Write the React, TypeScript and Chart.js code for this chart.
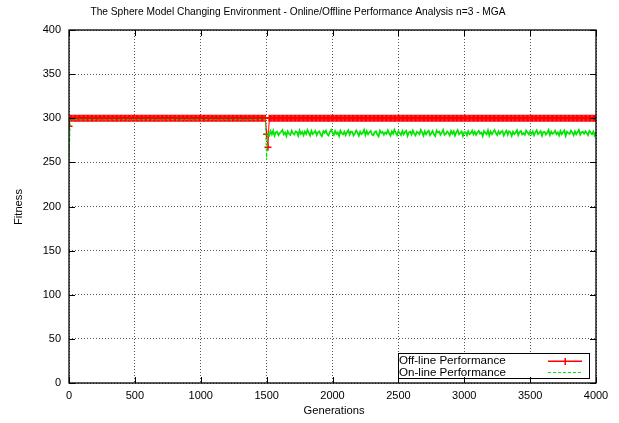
import React, { useEffect, useRef } from 'react';
import { Chart, registerables } from 'chart.js';

Chart.register(...registerables);

const TITLE = 'The Sphere Model Changing Environment - Online/Offline Performance Analysis n=3 - MGA';
const X_TITLE = 'Generations';
const Y_TITLE = 'Fitness';
const SERIES_NAMES = ['Off-line Performance', 'On-line Performance'];
const X_RANGE = [0, 4000];
const X_STEP = 500;
const Y_RANGE = [0, 400];
const Y_STEP = 50;
const GEN_STEP = 10;
const CHANGE_INDEX = 150; // generation 1500, environment change

// Off-line performance, one value every 10 generations (0 .. 4000)
const offline = [
291,300,300,300,300,300,300,300,300,300,300,300,300,300,300,300,300,300,300,300,
300,300,300,300,300,300,300,300,300,300,300,300,300,300,300,300,300,300,300,300,
300,300,300,300,300,300,300,300,300,300,300,300,300,300,300,300,300,300,300,300,
300,300,300,300,300,300,300,300,300,300,300,300,300,300,300,300,300,300,300,300,
300,300,300,300,300,300,300,300,300,300,300,300,300,300,300,300,300,300,300,300,
300,300,300,300,300,300,300,300,300,300,300,300,300,300,300,300,300,300,300,300,
300,300,300,300,300,300,300,300,300,300,300,300,300,300,300,300,300,300,300,300,
300,300,300,300,300,300,300,300,300,300,282,267,300,300,300,300,300,300,300,300,
300,300,300,300,300,300,300,300,300,300,300,300,300,300,300,300,300,300,300,300,
300,300,300,300,300,300,300,300,300,300,300,300,300,300,300,300,300,300,300,300,
300,300,300,300,300,300,300,300,300,300,300,300,300,300,300,300,300,300,300,300,
300,300,300,300,300,300,300,300,300,300,300,300,300,300,300,300,300,300,300,300,
300,300,300,300,300,300,300,300,300,300,300,300,300,300,300,300,300,300,300,300,
300,300,300,300,300,300,300,300,300,300,300,300,300,300,300,300,300,300,300,300,
300,300,300,300,300,300,300,300,300,300,300,300,300,300,300,300,300,300,300,300,
300,300,300,300,300,300,300,300,300,300,300,300,300,300,300,300,300,300,300,300,
300,300,300,300,300,300,300,300,300,300,300,300,300,300,300,300,300,300,300,300,
300,300,300,300,300,300,300,300,300,300,300,300,300,300,300,300,300,300,300,300,
300,300,300,300,300,300,300,300,300,300,300,300,300,300,300,300,300,300,300,300,
300,300,300,300,300,300,300,300,300,300,300,300,300,300,300,300,300,300,300,300,
300,
];

// On-line performance, one value every 10 generations (0 .. 4000)
const online = [
251,297.9,298.4,298.6,298.2,298.5,298.3,298.7,298.1,298.4,
298.6,298.3,298.2,298.5,298.8,298.4,298.1,298.6,298.3,298.5,
298.2,298.7,298.4,298.0,298.5,298.6,298.3,298.2,298.8,298.4,
298.5,298.1,298.6,298.3,298.7,298.2,298.4,298.5,298.0,298.6,
298.3,298.8,298.4,298.2,298.5,298.7,298.1,298.4,298.6,298.3,
298.5,298.2,298.7,298.4,298.0,298.6,298.3,298.5,298.8,298.2,
298.4,298.6,298.1,298.5,298.3,298.7,298.4,298.2,298.6,298.5,
298.3,298.0,298.6,298.4,298.8,298.2,298.5,298.3,298.7,298.4,
298.6,298.2,298.5,298.1,298.4,298.7,298.3,298.6,298.2,298.5,
298.4,298.8,298.3,298.5,298.0,298.6,298.4,298.2,298.7,298.3,
298.5,298.1,298.6,298.4,298.3,298.8,298.2,298.5,298.6,298.4,
298.2,298.7,298.3,298.5,298.1,298.4,298.6,298.3,298.8,298.5,
298.4,298.2,298.6,298.0,298.5,298.7,298.3,298.4,298.2,298.6,
298.5,298.3,298.8,298.4,298.1,298.6,298.2,298.5,298.7,298.3,
298.4,298.6,298.2,298.5,298.3,298.7,298.4,298.1,298.6,298.5,
253,
283.5,280.6,285.4,281.7,285.9,280.2,284.1,284.8,280.9,283.2,
284.7,286.6,281.8,283.9,279.8,285.3,282.4,281.0,285.8,283.0,
281.6,285.1,284.2,280.1,286.3,282.2,284.5,280.7,284.9,282.0,
286.8,283.3,280.3,285.6,282.0,283.8,285.7,280.9,284.0,285.1,
281.4,279.6,285.3,283.4,286.1,281.8,280.5,284.6,287.0,283.5,
281.1,285.5,282.3,284.0,279.9,285.9,283.0,281.8,284.8,280.8,
284.2,286.5,281.5,284.9,284.4,280.3,282.6,286.2,283.7,280.1,
284.9,282.1,283.4,286.8,281.0,285.4,281.9,284.1,285.7,281.3,
280.6,284.3,285.2,281.6,279.5,286.0,283.4,284.6,281.2,283.9,
282.2,286.4,283.0,280.4,285.1,282.3,287.0,283.6,280.8,285.3,
283.3,280.9,285.6,281.7,284.3,285.8,280.0,284.1,284.9,281.5,
286.1,282.5,280.5,284.7,283.6,281.9,286.7,284.1,280.2,285.2,
281.8,284.4,285.9,280.8,283.0,285.5,281.6,279.7,286.2,283.7,
284.8,281.3,284.0,286.9,281.2,282.2,285.0,283.5,280.6,285.7,
282.3,285.3,280.3,284.2,286.6,281.7,283.4,285.1,280.0,284.3,
284.1,280.7,285.4,282.0,283.2,286.0,281.5,284.7,281.0,284.0,
285.8,282.6,283.8,279.8,285.5,283.4,281.8,286.3,280.5,284.9,
281.9,284.6,286.8,283.3,280.9,285.2,282.3,284.5,285.7,280.4,
283.6,285.9,281.4,285.3,284.2,280.0,284.8,282.0,283.8,286.4,
280.8,284.3,285.6,281.7,283.2,281.1,286.1,284.0,281.6,285.0,
282.1,285.1,280.6,284.1,286.5,281.9,283.5,285.4,280.2,284.4,
284.6,281.5,283.6,286.7,281.0,284.9,282.4,283.3,285.8,281.8,
283.9,280.5,285.5,282.0,284.3,286.2,280.1,284.8,283.0,282.3,
286.0,283.7,280.7,285.2,281.7,284.4,286.9,281.4,284.1,284.7,
282.4,285.3,283.3,280.9,285.7,283.6,281.9,285.0,280.4,284.2,
];

const RED = '#ff0000';
const GREEN = '#00e600';
const FONT = '"Liberation Sans", Arial, Helvetica, sans-serif';
const TICK_SIZE = 11;
const TITLE_SIZE = 10.2;
const LABEL_SIZE = 11.2;
const LEGEND_SIZE = 11.6;

const decorPlugin = {
  id: 'decor',
  afterDraw(chart: any) {
    const { ctx, chartArea: a, scales } = chart;
    const xs = scales.x;
    const ys = scales.y;
    ctx.save();
    ctx.fillStyle = '#000';
    ctx.textBaseline = 'middle';
    ctx.textAlign = 'center';
    ctx.font = `${TITLE_SIZE}px ${FONT}`;
    ctx.fillText(TITLE, 298, 12);
    ctx.font = `${LABEL_SIZE}px ${FONT}`;
    ctx.fillText(X_TITLE, 334, 411);
    ctx.save();
    ctx.translate(19, 207);
    ctx.rotate(-Math.PI / 2);
    ctx.fillText(Y_TITLE, 0, 0);
    ctx.restore();

    // legend box
    const lx = 398.5, ly = 353.5, lw = 191, lh = 25;
    ctx.fillStyle = '#fff';
    ctx.fillRect(lx, ly, lw, lh);
    ctx.strokeStyle = '#000';
    ctx.lineWidth = 1;
    ctx.strokeRect(lx, ly, lw, lh);
    ctx.fillStyle = '#000';
    ctx.textAlign = 'left';
    ctx.font = `${LEGEND_SIZE}px ${FONT}`;
    ctx.fillText(SERIES_NAMES[0], 399, 361);
    ctx.fillText(SERIES_NAMES[1], 399, 372.5);
    // red sample
    ctx.fillStyle = RED;
    ctx.fillRect(548, 360.5, 34, 1.5);
    ctx.fillRect(564.5, 358, 1.5, 7);
    // green sample
    ctx.strokeStyle = GREEN;
    ctx.lineWidth = 1;
    ctx.setLineDash([3, 2]);
    ctx.beginPath();
    ctx.moveTo(548, 372.5);
    ctx.lineTo(582, 372.5);
    ctx.stroke();
    ctx.setLineDash([]);

    // frame
    ctx.strokeStyle = '#000';
    ctx.lineWidth = 1.3;
    ctx.strokeRect(a.left, a.top, a.right - a.left, a.bottom - a.top);

    // inward ticks (mirrored)
    ctx.lineWidth = 1;
    ctx.beginPath();
    const tl = 6;
    xs.ticks.forEach((t: any) => {
      const px = Math.round(xs.getPixelForValue(t.value)) + 0.5;
      ctx.moveTo(px, a.bottom);
      ctx.lineTo(px, a.bottom - tl);
      ctx.moveTo(px, a.top);
      ctx.lineTo(px, a.top + tl);
    });
    ys.ticks.forEach((t: any) => {
      const py = Math.round(ys.getPixelForValue(t.value)) + 0.5;
      ctx.moveTo(a.left, py);
      ctx.lineTo(a.left + tl, py);
      ctx.moveTo(a.right, py);
      ctx.lineTo(a.right - tl, py);
    });
    ctx.stroke();
    ctx.restore();
  },
};

export default function App() {
  const canvasRef = useRef<HTMLCanvasElement | null>(null);

  useEffect(() => {
    const canvas = canvasRef.current;
    if (!canvas) return;
    const offlinePts = offline.map((v, i) => ({ x: i * GEN_STEP, y: v }));
    const onlinePts = online.map((v, i) => ({ x: i * GEN_STEP, y: v }));
    const chart = new Chart(canvas, {
      type: 'line',
      data: {
        datasets: [
          {
            label: SERIES_NAMES[1],
            data: onlinePts,
            borderColor: GREEN,
            borderWidth: 1,
            borderDash: [3, 2],
            pointRadius: 0,
            tension: 0,
            order: 0,
            segment: {
              borderDash: (c: any) => (c.p0DataIndex > CHANGE_INDEX ? [] : [3, 2]),
              borderWidth: (c: any) => (c.p0DataIndex > CHANGE_INDEX ? 1.7 : 1),
            },
          },
          {
            label: SERIES_NAMES[0],
            data: offlinePts,
            borderColor: RED,
            borderWidth: 1,
            pointStyle: 'cross',
            pointRadius: 3.5,
            pointBorderWidth: 1.5,
            pointBorderColor: RED,
            pointBackgroundColor: RED,
            tension: 0,
            order: 1,
          },
        ],
      },
      options: {
        animation: false,
        responsive: false,
        events: [],
        layout: { padding: { left: 0, top: 30, right: 23, bottom: 0 } },
        plugins: {
          legend: { display: false },
          title: { display: false },
          tooltip: { enabled: false },
        },
        scales: {
          x: {
            type: 'linear',
            min: X_RANGE[0],
            max: X_RANGE[1],
            ticks: {
              stepSize: X_STEP,
              color: '#000',
              padding: 6,
              maxRotation: 0,
              autoSkip: false,
              font: { family: FONT, size: TICK_SIZE },
              callback: (v: any) => String(v),
            },
            grid: { color: '#555', lineWidth: 1, drawTicks: false },
            border: { display: false, dash: [1, 2] },
            afterFit: (s: any) => { s.height = 40; },
          },
          y: {
            type: 'linear',
            min: Y_RANGE[0],
            max: Y_RANGE[1],
            ticks: {
              stepSize: Y_STEP,
              color: '#000',
              padding: 8,
              autoSkip: false,
              font: { family: FONT, size: TICK_SIZE },
              callback: (v: any) => String(v),
            },
            grid: { color: '#555', lineWidth: 1, drawTicks: false },
            border: { display: false, dash: [1, 2] },
            afterFit: (s: any) => { s.width = 69; },
          },
        },
      },
      plugins: [decorPlugin],
    });
    return () => chart.destroy();
  }, []);

  return (
    <div style={{ position: 'absolute', left: 0, top: 0, width: 619, height: 423, background: '#fff' }}>
      <canvas ref={canvasRef} width={619} height={423} style={{ width: 619, height: 423 }} />
    </div>
  );
}
